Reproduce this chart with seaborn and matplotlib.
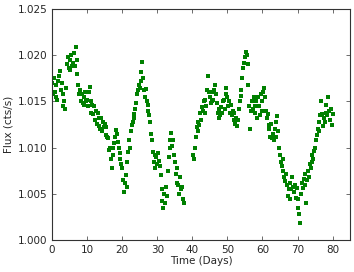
import matplotlib
matplotlib.use("Agg")
import matplotlib.pyplot as plt
import seaborn as sns
import pandas as pd

# light curve (4 samples per day, gap 37.5-40.25)
time = [
    0.0, 0.25, 0.5, 0.75, 1.0, 1.25, 1.5, 1.75, 2.0, 2.25, 2.5, 2.75,
    3.0, 3.25, 3.5, 3.75, 4.0, 4.25, 4.5, 4.75, 5.0, 5.25, 5.5, 5.75,
    6.0, 6.25, 6.5, 6.75, 7.0, 7.25, 7.5, 7.75, 8.0, 8.25, 8.5, 8.75,
    9.0, 9.25, 9.5, 9.75, 10.0, 10.25, 10.5, 10.75, 11.0, 11.25, 11.5, 11.75,
    12.0, 12.25, 12.5, 12.75, 13.0, 13.25, 13.5, 13.75, 14.0, 14.25, 14.5, 14.75,
    15.0, 15.25, 15.5, 15.75, 16.0, 16.25, 16.5, 16.75, 17.0, 17.25, 17.5, 17.75,
    18.0, 18.25, 18.5, 18.75, 19.0, 19.25, 19.5, 19.75, 20.0, 20.25, 20.5, 20.75,
    21.0, 21.25, 21.5, 21.75, 22.0, 22.25, 22.5, 22.75, 23.0, 23.25, 23.5, 23.75,
    24.0, 24.25, 24.5, 24.75, 25.0, 25.25, 25.5, 25.75, 26.0, 26.25, 26.5, 26.75,
    27.0, 27.25, 27.5, 27.75, 28.0, 28.25, 28.5, 28.75, 29.0, 29.25, 29.5, 29.75,
    30.0, 30.25, 30.5, 30.75, 31.0, 31.25, 31.5, 31.75, 32.0, 32.25, 32.5, 32.75,
    33.0, 33.25, 33.5, 33.75, 34.0, 34.25, 34.5, 34.75, 35.0, 35.25, 35.5, 35.75,
    36.0, 36.25, 36.5, 36.75, 37.0, 37.25, 37.5,
    40.25, 40.5, 40.75,
    41.0, 41.25, 41.5, 41.75, 42.0, 42.25, 42.5, 42.75, 43.0, 43.25, 43.5, 43.75,
    44.0, 44.25, 44.5, 44.75, 45.0, 45.25, 45.5, 45.75, 46.0, 46.25, 46.5, 46.75,
    47.0, 47.25, 47.5, 47.75, 48.0, 48.25, 48.5, 48.75, 49.0, 49.25, 49.5, 49.75,
    50.0, 50.25, 50.5, 50.75, 51.0, 51.25, 51.5, 51.75, 52.0, 52.25, 52.5, 52.75,
    53.0, 53.25, 53.5, 53.75, 54.0, 54.25, 54.5, 54.75, 55.0, 55.25, 55.5, 55.75,
    56.0, 56.25, 56.5, 56.75, 57.0, 57.25, 57.5, 57.75, 58.0, 58.25, 58.5, 58.75,
    59.0, 59.25, 59.5, 59.75, 60.0, 60.25, 60.5, 60.75, 61.0, 61.25, 61.5, 61.75,
    62.0, 62.25, 62.5, 62.75, 63.0, 63.25, 63.5, 63.75, 64.0, 64.25, 64.5, 64.75,
    65.0, 65.25, 65.5, 65.75, 66.0, 66.25, 66.5, 66.75, 67.0, 67.25, 67.5, 67.75,
    68.0, 68.25, 68.5, 68.75, 69.0, 69.25, 69.5, 69.75, 70.0, 70.25, 70.5, 70.75,
    71.0, 71.25, 71.5, 71.75, 72.0, 72.25, 72.5, 72.75, 73.0, 73.25, 73.5, 73.75,
    74.0, 74.25, 74.5, 74.75, 75.0, 75.25, 75.5, 75.75, 76.0, 76.25, 76.5, 76.75,
    77.0, 77.25, 77.5, 77.75, 78.0, 78.25, 78.5, 78.75, 79.0, 79.25, 79.5, 79.75,
    80.0,
]

flux = [
    1.0170, 1.0158, 1.0175, 1.0160, 1.0155, 1.0168, 1.0152, 1.0172,
    1.0178, 1.0183, 1.0162, 1.0170, 1.0158, 1.0145, 1.0150, 1.0142,
    1.0165, 1.0190, 1.0198, 1.0186, 1.0195, 1.0184, 1.0200, 1.0188,
    1.0192, 1.0202, 1.0188, 1.0209, 1.0195, 1.0180, 1.0168, 1.0158,
    1.0162, 1.0150, 1.0158, 1.0148, 1.0155, 1.0146, 1.0160, 1.0150,
    1.0152, 1.0145, 1.0160, 1.0166, 1.0150, 1.0138, 1.0146, 1.0136,
    1.0145, 1.0130, 1.0140, 1.0126, 1.0138, 1.0124, 1.0132, 1.0120,
    1.0132, 1.0118, 1.0128, 1.0122, 1.0126, 1.0114, 1.0122, 1.0112,
    1.0110, 1.0098, 1.0100, 1.0088, 1.0078, 1.0092, 1.0100, 1.0105,
    1.0112, 1.0119, 1.0115, 1.0106, 1.0100, 1.0094, 1.0088, 1.0082,
    1.0078, 1.0065, 1.0052, 1.0062, 1.0070, 1.0058, 1.0085, 1.0095,
    1.0108, 1.0100, 1.0118, 1.0125, 1.0128, 1.0136, 1.0132, 1.0142,
    1.0148, 1.0158, 1.0162, 1.0168, 1.0165, 1.0172, 1.0182, 1.0193,
    1.0175, 1.0162, 1.0155, 1.0163, 1.0150, 1.0140, 1.0146, 1.0135,
    1.0128, 1.0115, 1.0108, 1.0095, 1.0085, 1.0092, 1.0078, 1.0090,
    1.0082, 1.0094, 1.0086, 1.0080, 1.0070, 1.0055, 1.0042, 1.0035,
    1.0050, 1.0040, 1.0058, 1.0048, 1.0075, 1.0090, 1.0100, 1.0108,
    1.0116, 1.0102, 1.0108, 1.0092, 1.0085, 1.0072, 1.0078, 1.0062,
    1.0060, 1.0050, 1.0068, 1.0055, 1.0058, 1.0045, 1.0040,
    1.0092, 1.0088, 1.0100,
    1.0112, 1.0122, 1.0118, 1.0128, 1.0125, 1.0138, 1.0130, 1.0144,
    1.0140, 1.0150, 1.0138, 1.0152, 1.0145, 1.0162, 1.0177, 1.0160,
    1.0155, 1.0148, 1.0160, 1.0150, 1.0152, 1.0162, 1.0168, 1.0158,
    1.0148, 1.0138, 1.0132, 1.0142, 1.0135, 1.0144, 1.0138, 1.0150,
    1.0152, 1.0142, 1.0158, 1.0165, 1.0155, 1.0145, 1.0150, 1.0138,
    1.0146, 1.0135, 1.0140, 1.0130, 1.0138, 1.0126, 1.0132, 1.0124,
    1.0130, 1.0142, 1.0150, 1.0156, 1.0162, 1.0175, 1.0186, 1.0192,
    1.0198, 1.0204, 1.0200, 1.0190, 1.0168, 1.0145, 1.0120, 1.0140,
    1.0150, 1.0142, 1.0155, 1.0145, 1.0138, 1.0150, 1.0132, 1.0155,
    1.0145, 1.0135, 1.0158, 1.0140, 1.0150, 1.0160, 1.0165, 1.0155,
    1.0140, 1.0132, 1.0136, 1.0125, 1.0120, 1.0112, 1.0126, 1.0110,
    1.0115, 1.0108, 1.0120, 1.0112, 1.0128, 1.0134, 1.0118, 1.0100,
    1.0092, 1.0085, 1.0080, 1.0088, 1.0075, 1.0068, 1.0064, 1.0072,
    1.0060, 1.0048, 1.0055, 1.0044, 1.0062, 1.0055, 1.0068, 1.0058,
    1.0052, 1.0060, 1.0046, 1.0056, 1.0045, 1.0035, 1.0028, 1.0019,
    1.0050, 1.0062, 1.0056, 1.0066, 1.0072, 1.0060, 1.0040, 1.0065,
    1.0075, 1.0068, 1.0082, 1.0078, 1.0085, 1.0092, 1.0088, 1.0096,
    1.0100, 1.0108, 1.0114, 1.0120, 1.0118, 1.0128, 1.0135, 1.0150,
    1.0136, 1.0124, 1.0132, 1.0128, 1.0138, 1.0146, 1.0135, 1.0155,
    1.0140, 1.0130, 1.0142, 1.0125,
    1.0136,
]

df = pd.DataFrame({"Time": time, "Flux": flux})

sns.set_style("ticks")
plt.rcParams["font.family"] = ["DejaVu Sans"]
plt.rcParams["xtick.direction"] = "in"
plt.rcParams["ytick.direction"] = "in"
plt.rcParams["xtick.top"] = True
plt.rcParams["ytick.right"] = True

fig, ax = plt.subplots(figsize=(3.54, 2.72), dpi=100)
sns.scatterplot(data=df, x="Time", y="Flux", ax=ax, color="green",
                s=5, linewidth=0, marker="s")

ax.set_xlim(0, 85)
ax.set_ylim(1.000, 1.025)
ax.set_xticks([0, 10, 20, 30, 40, 50, 60, 70, 80])
ax.set_yticks([1.000, 1.005, 1.010, 1.015, 1.020, 1.025])
ax.set_yticklabels(["1.000", "1.005", "1.010", "1.015", "1.020", "1.025"])
ax.tick_params(labelsize=7.5, length=3, width=0.6, color="#555555")
ax.set_xlabel("Time (Days)", fontsize=7.5, labelpad=1)
ax.set_ylabel("Flux (cts/s)", fontsize=7.5, labelpad=3)
for sp in ax.spines.values():
    sp.set_linewidth(0.8)
    sp.set_color("#333333")

fig.subplots_adjust(left=0.147, right=0.989, top=0.967, bottom=0.117)
fig.savefig("out.png", dpi=100)
